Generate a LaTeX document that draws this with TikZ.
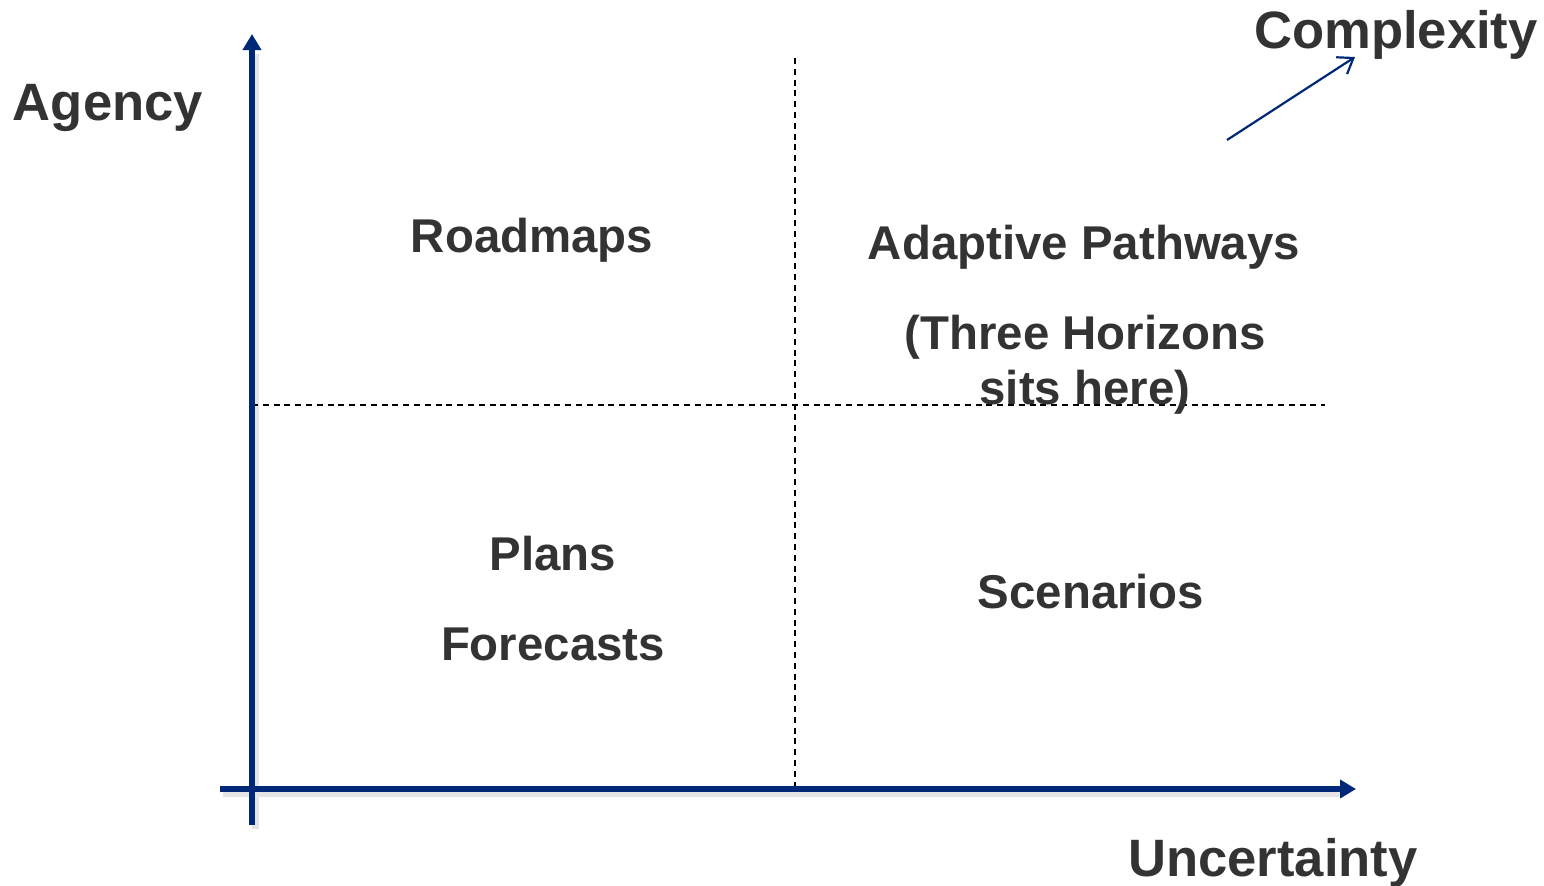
\documentclass[tikz,border=0pt]{standalone}
\usepackage{fontspec}
\setmainfont{Liberation Sans}
\usetikzlibrary{arrows.meta}
\definecolor{axisblue}{RGB}{0,40,120}
\definecolor{textgrey}{RGB}{51,51,51}
\tikzset{
  axis/.style={draw=axisblue, line width=3pt, -{Triangle[length=8pt,width=9pt]}},
  axisshade/.style={draw=black!10, line width=3.5pt, shorten >=8pt},
  divider/.style={draw=black, line width=0.6pt, dash pattern=on 3pt off 2.4pt},
  axislabel/.style={anchor=base, text=textgrey, font=\bfseries\fontsize{26.3}{30}\selectfont},
  quadlabel/.style={anchor=base, text=textgrey, font=\bfseries\fontsize{23.7}{28}\selectfont}
}
\begin{document}
\begin{tikzpicture}[x=0.5pt,y=-0.5pt]
      \useasboundingbox (0,0) rectangle (1544,885);
      % axis ends
      \coordinate (ybot) at (252,825) ;
      \coordinate (ytop) at (252,34) ;
      \coordinate (xleft) at (220,789) ;
      \coordinate (xright) at (1356,789) ;
      \coordinate (vtop) at (795,58) ;
      \coordinate (vbot) at (795,789) ;
      \coordinate (hleft) at (252,405) ;
      \coordinate (hright) at (1325,405) ;
      \coordinate (cstart) at (1227,140) ;
      \coordinate (cend) at (1355,57) ;
      % axes with a soft shadow
      \draw [axisshade] ([shift={(3,4)}]ybot) -- ([shift={(3,4)}]ytop) ;
      \draw [axisshade] ([shift={(3,4)}]xleft) -- ([shift={(3,4)}]xright) ;
      % quadrant dividers
      \draw [divider] (vtop) -- (vbot) ;
      \draw [divider] (hleft) -- (hright) ;
      \draw [axis] (ybot) -- (ytop) ;
      \draw [axis] (xleft) -- (xright) ;
      \draw [draw=axisblue, line width=1.1pt, -{Straight Barb[length=7pt,width=10pt]}] (cstart) -- (cend) ;
      % axis labels
      \node [axislabel] (agency) at (108,120) { Agency } ;
      \node [axislabel] (complexity) at (1396,48) { Complexity } ;
      \node [axislabel] (uncertainty) at (1273,876) { Uncertainty } ;
      % quadrants
      \node [quadlabel] (roadmaps) at (532,252) { Roadmaps } ;
      \node [quadlabel] (adaptive) at (1084,259) { Adaptive Pathways } ;
      \node [quadlabel] (threeh) at (1085,349) { (Three Horizons } ;
      \node [quadlabel] (sits) at (1085,404) { sits here) } ;
      \node [quadlabel] (plans) at (553,570) { Plans } ;
      \node [quadlabel] (forecasts) at (553,660) { Forecasts } ;
      \node [quadlabel] (scenarios) at (1091,608) { Scenarios } ;
\end{tikzpicture}
\end{document}
